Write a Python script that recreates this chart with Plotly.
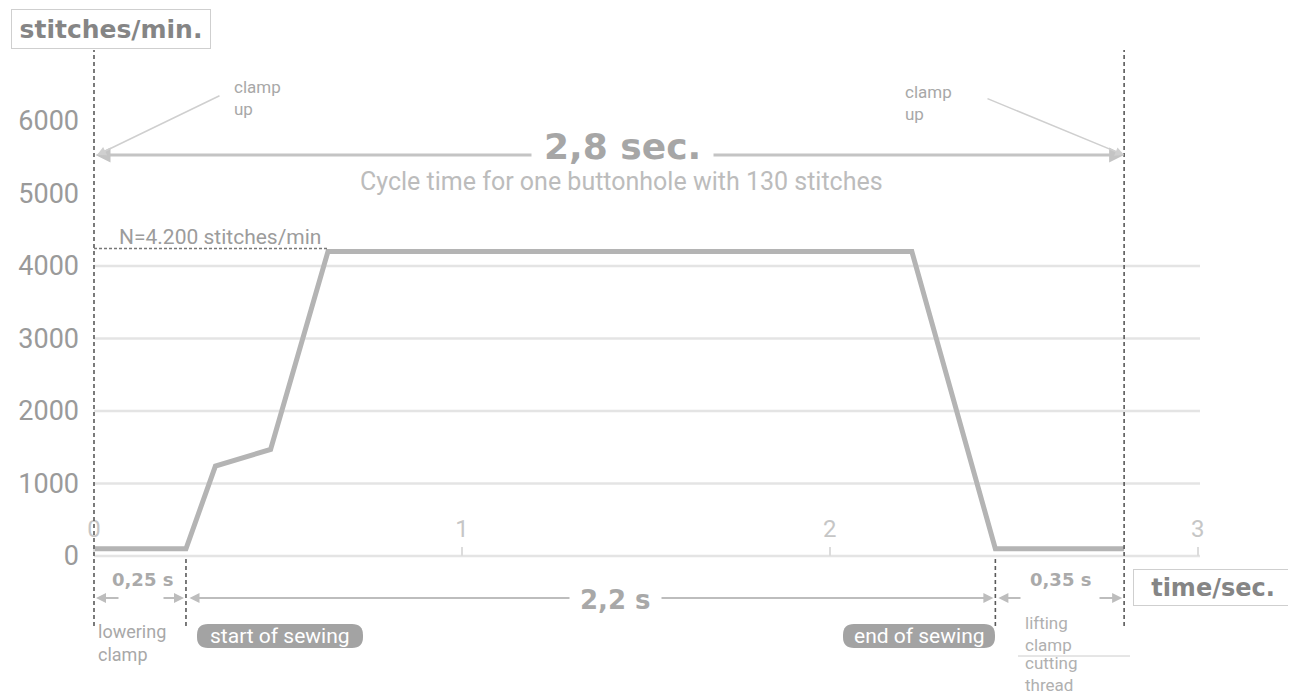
import plotly.graph_objects as go

# ---------------- data ----------------
time_s = [0, 0.25, 0.33, 0.48, 0.636, 2.223, 2.45, 2.8]
speed = [100, 100, 1240, 1470, 4200, 4200, 100, 100]
y_ticks = [0, 1000, 2000, 3000, 4000, 5000, 6000]
x_ticks = [0, 1, 2, 3]
grid_vals = [0, 1000, 2000, 3000, 4000]
n_max = 4200
phase_bounds = [0, 0.25, 2.45, 2.8]
phase_labels = ["0,25 s", "2,2 s", "0,35 s"]

# ---------------- layout geometry (pixel helpers, page pixels) ----------------
OFF = 8            # page body margin
W, H = 1296 - OFF, 695 - OFF
L_PX = 94          # page pixel of t = 0
PX_PER_S = 367.9
Y0_PX = 556        # page pixel of 0 stitches/min
PX_PER_UNIT = 0.0725
M_LEFT_PAGE = 80


def X(px):
    return (px - L_PX) / PX_PER_S


def Y(py):
    return (Y0_PX - py) / PX_PER_UNIT


x_range = [X(M_LEFT_PAGE), X(OFF + W)]
y_range = [Y(OFF + H), Y(OFF)]
xpos = (0 - y_range[0]) / (y_range[1] - y_range[0])

FONT = "Roboto"
BOLD = "DejaVu Sans"

fig = go.Figure()

fig.add_trace(go.Scatter(
    x=time_s, y=speed, mode="lines",
    line=dict(color="#b4b4b4", width=5),
    hoverinfo="skip", showlegend=False,
))

shapes = []
for v in grid_vals:
    shapes.append(dict(type="line", xref="x", yref="y", x0=0, x1=X(1200), y0=v, y1=v,
                       line=dict(color="#e4e4e4", width=2.5), layer="below"))
for i, t in enumerate(phase_bounds):
    top = Y(50) if i in (0, len(phase_bounds) - 1) else Y(559)
    shapes.append(dict(type="line", xref="x", yref="y", x0=t, x1=t, y0=Y(626), y1=top,
                       line=dict(color="#5a5a5a", width=1.6, dash="4px,3px")))
shapes.append(dict(type="line", xref="x", yref="y", x0=0, x1=time_s[4], y0=n_max + 40, y1=n_max + 40,
                   line=dict(color="#777777", width=1.5, dash="3px,2px")))
shapes.append(dict(type="line", xref="x", yref="y", x0=X(1018), x1=X(1130), y0=Y(656), y1=Y(656),
                   line=dict(color="#cccccc", width=1)))


def pill(px0, py0, px1, py1, r=11):
    pts = [
        f"M {X(px0 + r)},{Y(py0)}",
        f"L {X(px1 - r)},{Y(py0)}",
        f"Q {X(px1)},{Y(py0)} {X(px1)},{Y(py0 + r)}",
        f"L {X(px1)},{Y(py1 - r)}",
        f"Q {X(px1)},{Y(py1)} {X(px1 - r)},{Y(py1)}",
        f"L {X(px0 + r)},{Y(py1)}",
        f"Q {X(px0)},{Y(py1)} {X(px0)},{Y(py1 - r)}",
        f"L {X(px0)},{Y(py0 + r)}",
        f"Q {X(px0)},{Y(py0)} {X(px0 + r)},{Y(py0)}",
        "Z",
    ]
    return dict(type="path", xref="x", yref="y", path=" ".join(pts),
                fillcolor="#a3a3a3", line=dict(width=0))


shapes.append(pill(197, 624, 363, 648))
shapes.append(pill(843, 624, 995, 648))

ann = []


def text(x, y, s, size=15, color="#a8a8a8", bold=False, xanchor="center", family=None, **kw):
    d = dict(x=x, y=y, xref="x", yref="y", text=s, showarrow=False, xanchor=xanchor,
             yanchor="middle", align="left" if xanchor == "left" else "center",
             font=dict(family=family or (BOLD if bold else FONT), size=size, color=color,
                       weight="bold" if bold else "normal"))
    d.update(kw)
    ann.append(d)


def arrow(hx, hy, tx, ty, color="#bdbdbd", width=2, head=2, size=1.0, side="end"):
    ann.append(dict(x=hx, y=hy, ax=tx, ay=ty, xref="x", yref="y", axref="x", ayref="y",
                    text="", showarrow=True, arrowhead=head, startarrowhead=head,
                    arrowsize=size, startarrowsize=size, arrowwidth=width,
                    arrowcolor=color, arrowside=side, standoff=0, startstandoff=0))


# axis titles in boxes
text(X(111), Y(29), "stitches/min.", size=25, color="#858585", bold=True,
     bordercolor="#cfcfcf", borderwidth=1, width=196, height=36)
text(X(1213), Y(587), "time/sec.", size=24, color="#858585", bold=True,
     bordercolor="#cfcfcf", borderwidth=1, width=156, height=33)

# total cycle arrow
arrow(phase_bounds[-1], Y(155), phase_bounds[0], Y(155), color="#c4c4c4", width=3,
      size=1.0, side="end+start")
text(X(622), Y(146), "2,8 sec.", size=36, color="#a6a6a6", bold=True,
     bgcolor="#ffffff", borderpad=12)
text(X(621), Y(181), "Cycle time for one buttonhole with 130 stitches", size=25, color="#bcbcbc")

# clamp up labels and pointers
text(X(232), Y(98), "clamp<br>up", size=17, color="#a8a8a8", xanchor="left")
arrow(X(97), Y(155), X(221), Y(95), color="#cfcfcf", width=1.5, size=1.2)
text(X(903), Y(103), "clamp<br>up", size=17, color="#a8a8a8", xanchor="left")
arrow(phase_bounds[-1], Y(155), X(986), Y(98), color="#cfcfcf", width=1.5, size=1.2)

# max speed label
text(X(117), Y(237), f"N={n_max // 1000}.{n_max % 1000:03d} stitches/min", size=21,
     color="#9c9c9c", xanchor="left")

# phase durations
yA = Y(598)
text(X(142), Y(579), phase_labels[0], size=18, color="#aaaaaa", bold=True)
arrow(phase_bounds[0] + 2 / PX_PER_S, yA, X(120), yA, width=2)
arrow(phase_bounds[1] - 2 / PX_PER_S, yA, X(162), yA, width=2)

arrow(phase_bounds[2] - 2 / PX_PER_S, yA, phase_bounds[1] + 2 / PX_PER_S, yA, width=2,
      side="end+start")
text(X(615), Y(600), phase_labels[1], size=26, color="#a8a8a8", bold=True,
     bgcolor="#ffffff", borderpad=10)

text(X(1060), Y(579), phase_labels[2], size=18, color="#aaaaaa", bold=True)
arrow(phase_bounds[2] + 3 / PX_PER_S, yA, X(1022), yA, width=2)
arrow(phase_bounds[3] - 2 / PX_PER_S, yA, X(1098), yA, width=2)

# phase descriptions
text(X(96), Y(643), "lowering<br>clamp", size=18, color="#a8a8a8", xanchor="left")
text(X(280), Y(636), "start of sewing", size=21, color="#ffffff")
text(X(919), Y(636), "end of sewing", size=21, color="#ffffff")
text(X(1023), Y(634), "lifting<br>clamp", size=17, color="#b0b0b0", xanchor="left")
text(X(1023), Y(674), "cutting<br>thread", size=17, color="#b0b0b0", xanchor="left")

fig.update_layout(
    width=W, height=H,
    margin=dict(l=M_LEFT_PAGE - OFF, r=0, t=0, b=0),
    paper_bgcolor="#ffffff", plot_bgcolor="#ffffff",
    shapes=shapes, annotations=ann,
    showlegend=False,
    xaxis=dict(range=x_range, anchor="free", position=xpos, side="top",
               tickvals=x_ticks, ticktext=[str(v) for v in x_ticks],
               ticks="outside", ticklen=9, tickwidth=2, tickcolor="#dcdcdc",
               tickfont=dict(family=FONT, size=24, color="#c6c6c6"),
               showgrid=False, zeroline=False, showline=False, fixedrange=True),
    yaxis=dict(range=y_range, tickvals=y_ticks, ticktext=[str(v) for v in y_ticks],
               ticks="", tickfont=dict(family=FONT, size=27, color="#9a9a9a"),
               showgrid=False, zeroline=False, showline=False, fixedrange=True),
)

fig.write_html("out.html", config={"displayModeBar": False})
